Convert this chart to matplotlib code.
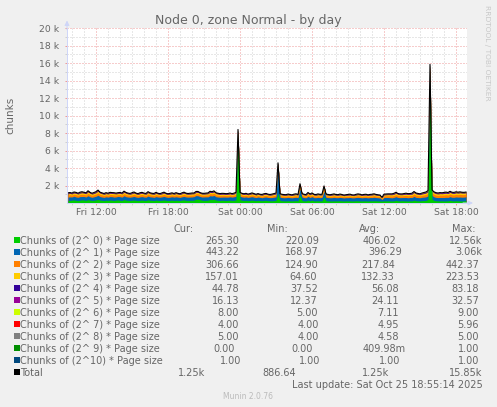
import numpy as np
import matplotlib
matplotlib.use("Agg")
import matplotlib.pyplot as plt
from matplotlib.ticker import FixedLocator

# ---------------- data (10-minute samples, first sample Fri 09:40) ----------------
start_hour = 9 + 40 / 60
step_hours = 10 / 60

chunks_2p0 = [310,290,330,350,300,280,320,360,340,300, 380,330,290,310,350,400,330,300,280,320,
              300,340,310,290,330,350,300,280,390,320, 300,290,310,340,300,280,310,330,300,290,
              360,310,300,280,330,300,290,310,340,300, 280,300,320,290,310,300,280,330,350,300,
              290,310,300,330,420,450,380,310,300,300, 320,400,380,420,330,300,290,310,300,280,
              300,320,290,310,350,7000,360,310,290,300, 280,300,320,290,270,300,280,260,290,300,
              270,260,250,280,300,1100,280,260,250,240, 260,250,240,260,270,250,900,280,250,240,
              330,250,320,240,250,260,240,250,700,260, 250,240,230,250,240,250,260,240,230,250,
              240,250,230,240,260,250,240,230,250,240, 230,250,240,260,250,240,230,220,250,240,
              250,240,230,250,300,250,240,260,250,240, 230,250,240,320,260,250,240,270,280,300,
              400,12560,420,300,260,250,240,250,230,240, 250,300,250,240,260,250,240,230,250,265]
chunks_2p1 = [380,400,360,420,390,370,410,380,400,390, 450,380,360,400,420,480,400,380,360,390,
              370,390,410,380,360,400,420,390,430,400, 380,370,390,410,380,360,390,400,380,370,
              430,390,380,360,400,380,370,390,410,380, 360,370,390,380,400,370,360,380,400,390,
              380,370,390,400,430,380,360,370,390,400, 380,430,420,440,390,380,370,360,380,390,
              370,390,380,400,420,800,400,380,370,390, 360,380,400,370,350,380,360,340,370,380,
              360,350,370,380,400,3060,380,360,350,370, 380,360,350,370,380,360,700,400,370,360,
              420,380,400,370,360,380,370,390,650,380, 370,360,380,390,370,360,380,370,350,360,
              370,380,360,350,370,390,380,360,370,380, 360,370,380,390,370,360,350,169,380,390,
              380,370,360,390,420,380,370,360,380,390, 370,380,390,430,380,370,360,380,390,400,
              420,2490,450,400,380,370,390,380,400,410, 390,420,400,410,430,420,440,430,420,443]
chunks_2p2 = [230,250,220,240,260,230,250,270,240,230, 280,250,230,240,260,300,250,240,220,230,
              220,240,230,250,220,210,240,230,260,240, 220,210,230,250,220,210,230,240,220,210,
              250,230,210,220,240,210,200,220,240,210, 200,210,220,200,230,210,200,220,240,210,
              200,210,220,200,230,240,220,210,200,210, 220,250,240,260,220,210,200,210,200,190,
              200,210,190,200,220,330,220,200,190,200, 180,190,210,200,180,190,170,180,190,200,
              180,170,190,200,210,220,190,180,170,160, 180,170,160,180,190,170,330,190,180,170,
              220,190,210,180,170,190,180,170,320,180, 170,160,180,190,170,160,180,170,150,160,
              170,180,160,150,170,190,180,160,170,180, 160,170,180,190,170,160,150,125,180,190,
              200,210,220,230,250,220,210,200,220,240, 230,220,240,280,250,230,220,240,260,280,
              300,442,320,290,270,260,280,270,290,300, 280,310,290,280,300,290,310,300,290,307]
chunks_2p3 = [140,150,130,145,155,140,150,160,145,140, 170,150,140,145,155,175,150,140,130,140,
              135,145,140,150,130,125,145,140,160,145, 135,130,140,150,135,130,140,145,135,130,
              150,140,130,135,145,130,125,135,145,130, 125,130,135,125,140,130,125,135,145,130,
              125,130,135,125,140,145,135,130,125,130, 135,150,145,155,135,130,125,130,125,120,
              125,130,120,125,135,170,135,125,120,125, 115,120,130,125,115,120,110,115,120,125,
              115,110,120,125,130,120,120,115,110,105, 115,110,105,115,120,110,170,120,115,110,
              135,120,130,115,110,120,115,110,170,115, 110,105,115,120,110,105,115,110,100,105,
              110,115,105,100,110,120,115,105,110,115, 105,110,115,120,110,105,100,65,115,120,
              125,130,135,140,150,135,130,125,135,145, 140,135,145,165,150,140,135,145,155,165,
              175,224,180,170,160,155,165,160,170,175, 165,180,170,165,175,170,180,175,170,157]
chunks_2p4 = [58,62,55,60,64,57,61,66,60,58, 70,62,57,60,64,72,62,58,55,57,
              55,59,57,61,54,52,58,56,64,59, 55,53,57,61,55,53,57,59,55,53,
              60,57,53,55,59,53,51,55,59,53, 51,53,55,51,57,53,51,55,59,53,
              51,53,55,51,57,59,55,53,51,53, 55,61,59,63,55,53,51,53,51,49,
              51,53,49,51,55,60,55,51,49,51, 47,49,53,51,47,49,45,47,49,51,
              47,45,49,51,53,50,49,47,45,43, 47,45,43,47,49,45,60,49,47,45,
              55,49,53,47,45,49,47,45,60,47, 45,43,47,49,45,43,47,45,41,43,
              45,47,43,41,45,49,47,43,45,47, 43,45,47,49,45,43,41,38,47,49,
              51,53,55,57,61,55,53,51,55,59, 57,55,59,67,61,57,55,59,63,67,
              71,83,73,69,65,63,67,65,69,71, 67,73,69,67,64,60,57,52,48,45]
chunks_2p5 = [25,27,24,26,28,25,26,29,26,25, 30,27,25,26,28,31,27,25,24,25,
              24,26,25,27,24,23,25,24,28,26, 24,23,25,27,24,23,25,26,24,23,
              26,25,23,24,26,23,22,24,26,23, 22,23,24,22,25,23,22,24,26,23,
              22,23,24,22,25,26,24,23,22,23, 24,27,26,28,24,23,22,23,22,21,
              22,23,21,22,24,25,24,22,21,22, 20,21,23,22,20,21,19,20,21,22,
              20,19,21,22,23,22,21,20,19,18, 20,19,18,20,21,19,25,21,20,19,
              24,21,23,20,19,21,20,19,25,20, 19,18,20,21,19,18,20,19,17,12,
              19,20,18,17,19,21,20,18,19,20, 18,19,20,21,19,18,17,16,20,21,
              22,23,24,25,27,24,23,22,24,26, 25,24,26,29,27,25,24,26,28,29,
              31,33,32,30,29,28,29,28,30,31, 29,32,30,29,31,30,28,24,20,16]
chunks_2p6 = [7,7,8,7,6,7,8,9,7,7,8,7,7,6,7,8,7,7,6,7,
              6,7,7,8,7,6,7,7,8,7,7,6,7,8,7,6,7,7,7,6,
              8,7,6,7,7,6,5,7,8,7,6,7,7,6,7,7,6,7,8,7,
              6,7,7,6,7,8,7,7,6,7,7,8,8,9,7,7,6,7,6,6,
              6,7,6,7,7,8,7,6,6,7,6,6,7,7,6,6,5,6,6,7,
              6,6,7,7,7,8,7,6,6,6,7,6,6,7,7,6,8,7,6,6,
              7,6,7,6,6,7,6,6,8,6,6,5,6,7,6,6,7,6,6,5,
              6,7,6,6,7,7,7,6,6,7,6,6,7,7,6,6,6,5,7,7,
              7,7,8,8,8,7,7,7,8,8,8,7,8,9,8,8,7,8,8,9,
              9,9,9,8,8,8,8,8,9,9,8,9,8,8,9,8,8,8,8,8]
chunks_2p7 = [5,5,5,4,5,5,5,6,5,5,5,5,4,5,5,6,5,5,5,5,
              5,5,5,5,4,5,5,5,5,5,5,4,5,5,5,5,5,5,4,5,
              5,5,5,5,5,4,5,5,5,5,5,5,4,5,5,5,5,5,5,5,
              5,5,5,4,5,5,5,5,5,5,5,6,5,5,5,5,4,5,5,5,
              5,5,5,5,5,6,5,5,5,4,5,5,5,5,5,4,5,5,5,5,
              5,5,5,5,5,6,5,5,4,5,5,5,5,5,5,5,6,5,5,5,
              5,5,5,5,4,5,5,5,6,5,5,5,4,5,5,5,5,5,5,5,
              5,5,5,4,5,5,5,5,5,5,5,5,5,5,4,5,5,5,5,5,
              5,5,5,5,5,5,5,5,5,5,5,5,5,6,5,5,5,5,5,5,
              5,6,5,5,5,5,5,5,5,5,5,5,5,5,5,5,5,5,4,4]
chunks_2p8 = [5,5,4,5,5,4,5,5,4,5,5,4,5,5,4,5,4,5,5,4,
              5,4,5,5,4,5,5,4,5,4,5,5,4,5,4,5,5,4,5,4,
              5,4,5,4,5,5,4,5,4,5,4,5,5,4,5,4,5,5,4,5,
              4,5,5,4,5,4,5,5,4,5,5,4,5,4,5,5,4,5,4,5,
              5,4,5,5,4,5,5,4,5,4,5,5,4,5,4,5,5,4,5,5,
              4,5,4,5,5,4,5,4,5,5,4,5,5,4,5,4,5,5,4,5,
              5,4,5,5,4,5,4,5,5,4,5,4,5,5,4,5,5,4,5,4,
              5,5,4,5,4,5,5,4,5,5,4,5,4,5,5,4,5,4,5,5,
              4,5,5,4,5,5,4,5,4,5,5,4,5,5,4,5,5,4,5,5,
              5,4,5,5,4,5,5,4,5,5,4,5,5,4,5,5,4,5,5,5]
chunks_2p9 = [0,1,0,0,1,0,1,0,0,1,0,1,0,1,0,0,1,0,1,0,
              1,0,0,1,0,1,0,0,1,0,1,0,1,0,0,1,0,1,0,0,
              0,1,0,1,0,0,1,0,1,0,0,1,0,0,1,0,1,0,0,1,
              1,0,1,0,0,1,0,0,1,0,1,0,0,1,0,1,0,1,0,0,
              0,1,0,0,1,0,1,0,0,1,0,0,1,0,1,0,0,1,0,1,
              1,0,0,1,0,1,0,0,1,0,1,0,1,0,0,1,0,0,1,0,
              0,1,0,1,0,0,1,0,0,1,0,1,0,0,1,0,1,0,0,1,
              1,0,1,0,0,1,0,1,0,0,1,0,0,1,0,1,0,0,1,0,
              0,1,0,0,1,0,0,1,0,1,0,0,1,0,1,0,0,1,0,1,
              1,0,0,1,0,1,0,0,1,0,0,1,0,1,0,0,1,0,1,0]
chunks_2p10 = [1,1,1,1,1,1,1,1,1,1,1,1,1,1,1,1,1,1,1,1,
               1,1,1,1,1,1,1,1,1,1,1,1,1,1,1,1,1,1,1,1,
               1,1,1,1,1,1,1,1,1,1,1,1,1,1,1,1,1,1,1,1,
               1,1,1,1,1,1,1,1,1,1,1,1,1,1,1,1,1,1,1,1,
               1,1,1,1,1,1,1,1,1,1,1,1,1,1,1,1,1,1,1,1,
               1,1,1,1,1,1,1,1,1,1,1,1,1,1,1,1,1,1,1,1,
               1,1,1,1,1,1,1,1,1,1,1,1,1,1,1,1,1,1,1,1,
               1,1,1,1,1,1,1,1,1,1,1,1,1,1,1,1,1,1,1,1,
               1,1,1,1,1,1,1,1,1,1,1,1,1,1,1,1,1,1,1,1,
               1,1,1,1,1,1,1,1,1,1,1,1,1,1,1,1,1,1,1,1]

series_labels = ["Chunks of (2^ 0) * Page size", "Chunks of (2^ 1) * Page size",
                 "Chunks of (2^ 2) * Page size", "Chunks of (2^ 3) * Page size",
                 "Chunks of (2^ 4) * Page size", "Chunks of (2^ 5) * Page size",
                 "Chunks of (2^ 6) * Page size", "Chunks of (2^ 7) * Page size",
                 "Chunks of (2^ 8) * Page size", "Chunks of (2^ 9) * Page size",
                 "Chunks of (2^10) * Page size"]
cur_vals = ["265.30", "443.22", "306.66", "157.01", "44.78", "16.13", "8.00", "4.00", "5.00", "0.00", "1.00"]
min_vals = ["220.09", "168.97", "124.90", "64.60", "37.52", "12.37", "5.00", "4.00", "4.00", "0.00", "1.00"]
avg_vals = ["406.02", "396.29", "217.84", "132.33", "56.08", "24.11", "7.11", "4.95", "4.58", "409.98m", "1.00"]
max_vals = ["12.56k", "3.06k", "442.37", "223.53", "83.18", "32.57", "9.00", "5.96", "5.00", "1.00", "1.00"]
total_label = "Total"
total_vals = ["1.25k", "886.64", "1.25k", "15.85k"]

xtick_hours = [12, 18, 24, 30, 36, 42]
xtick_labels = ["Fri 12:00", "Fri 18:00", "Sat 00:00", "Sat 06:00", "Sat 12:00", "Sat 18:00"]
ytick_values = [2000, 4000, 6000, 8000, 10000, 12000, 14000, 16000, 18000, 20000]
ytick_labels = ["2 k", "4 k", "6 k", "8 k", "10 k", "12 k", "14 k", "16 k", "18 k", "20 k"]

title = "Node 0, zone Normal - by day"
ylabel = "chunks"
last_update = "Last update: Sat Oct 25 18:55:14 2025"
footer = "Munin 2.0.76"
watermark = "RRDTOOL / TOBI OETIKER"

# ---------------- styles / layout ----------------
colors = ["#00CC00", "#0066B3", "#FF8000", "#FFCC00", "#330099", "#990099",
          "#CCFF00", "#FF0000", "#808080", "#008F00", "#00487D"]
FONT = "#666666"
AXIS = "#CFD6F8"
W, H, DPI = 497, 407, 100

plt.rcParams["font.family"] = ["DejaVu Sans"]
fig = plt.figure(figsize=(W / DPI, H / DPI), dpi=DPI, facecolor="#F0F0F0")


def fx(x):
    return x / W


def fy(y):
    return 1 - y / H


ax_l, ax_r, ax_t, ax_b = 67, 467, 28, 203
ax = fig.add_axes([fx(ax_l), fy(ax_b), (ax_r - ax_l) / W, (ax_b - ax_t) / H])
ax.set_facecolor("white")

series = [chunks_2p0, chunks_2p1, chunks_2p2, chunks_2p3, chunks_2p4, chunks_2p5,
          chunks_2p6, chunks_2p7, chunks_2p8, chunks_2p9, chunks_2p10]
data = np.array(series, dtype=float)
hours = start_hour + step_hours * np.arange(data.shape[1])
cum = np.cumsum(data, axis=0)
total = cum[-1]

for k in range(len(series) - 1, -1, -1):
    ax.fill_between(hours, 0, cum[k], color=colors[k], lw=0, zorder=2)
ax.plot(hours, total, color="black", lw=0.8, zorder=3)

x0 = 9 + 35 / 60
ax.set_xlim(x0, x0 + 400 / 12)
ax.set_ylim(0, 20000)

ax.xaxis.set_major_locator(FixedLocator(xtick_hours))
ax.xaxis.set_minor_locator(FixedLocator(list(range(10, 43))))
ax.set_xticklabels(xtick_labels)
ax.yaxis.set_major_locator(FixedLocator(ytick_values))
ax.yaxis.set_minor_locator(FixedLocator(list(range(1000, 20001, 1000))))
ax.set_yticklabels(ytick_labels)

ax.set_axisbelow(True)
ax.grid(which="minor", color="#D0D0D0", ls=(0, (1, 2)), lw=0.72)
ax.grid(which="major", color="#EE9A9A", ls=(0, (1, 2)), lw=0.72)

ax.tick_params(which="major", length=1.5, width=0.72, color="#EE9A9A",
               labelsize=6.7, labelcolor=FONT)
ax.tick_params(which="minor", length=1.5, width=0.72, color="#D0D0D0")
ax.tick_params(axis="x", which="major", pad=1.8)
ax.tick_params(axis="y", which="major", pad=4)

for s in ["top", "right"]:
    ax.spines[s].set_visible(False)
for s in ["left", "bottom"]:
    ax.spines[s].set_color(AXIS)
    ax.spines[s].set_linewidth(0.72)
    ax.spines[s].set_zorder(4)

ax.annotate("", xy=(0, (ax_b - 20.5) / (ax_b - ax_t)), xytext=(0, 0.99),
            xycoords="axes fraction", annotation_clip=False,
            arrowprops=dict(arrowstyle="-|>", color=AXIS, lw=0.72, mutation_scale=7,
                            shrinkA=0, shrinkB=0))
ax.annotate("", xy=((473 - ax_l) / (ax_r - ax_l), 0), xytext=(0.99, 0),
            xycoords="axes fraction", annotation_clip=False,
            arrowprops=dict(arrowstyle="-|>", color=AXIS, lw=0.72, mutation_scale=7,
                            shrinkA=0, shrinkB=0))

# ---------------- texts ----------------
fig.text(fx(248), fy(24), title, ha="center", va="baseline", fontsize=9, color=FONT)
fig.text(fx(10), fy(115), ylabel, ha="center", va="center", rotation=90,
         fontsize=7.5, color=FONT)
fig.text(fx(487.5), fy(53), watermark, ha="center", va="center", rotation=270,
         fontsize=5.4, color="#C8C8C8")

LS = 7
base = 3.5
fig.text(fx(173), fy(228 + base), "Cur:", ha="left", va="baseline", fontsize=LS, color=FONT)
fig.text(fx(267), fy(228 + base), "Min:", ha="left", va="baseline", fontsize=LS, color=FONT)
fig.text(fx(359), fy(228 + base), "Avg:", ha="left", va="baseline", fontsize=LS, color=FONT)
fig.text(fx(452), fy(228 + base), "Max:", ha="left", va="baseline", fontsize=LS, color=FONT)

cur_r = [239, 239, 239, 239, 239, 239, 239, 239, 239, 235, 241]
min_r = [319, 319, 319, 317, 318, 318, 318, 319, 319, 313, 320]
avg_r = [396, 402, 395, 395, 399, 399, 399, 399, 399, 406, 400]
max_r = [482, 482, 479, 479, 479, 479, 479, 479, 479, 479, 479]

for k, lab in enumerate(series_labels):
    yrow = 240 + 12 * k
    fig.patches.append(plt.Rectangle((fx(14), fy(yrow + 3)), 6 / W, 6 / H,
                                     transform=fig.transFigure, facecolor=colors[k],
                                     edgecolor="none"))
    fig.text(fx(20.5), fy(yrow + base), lab, ha="left", va="baseline", fontsize=LS, color=FONT)
    for txt, xr in zip([cur_vals[k], min_vals[k], avg_vals[k], max_vals[k]],
                       [cur_r[k], min_r[k], avg_r[k], max_r[k]]):
        fig.text(fx(xr), fy(yrow + base), txt, ha="right", va="baseline",
                 fontsize=LS, color=FONT)

yrow = 372
fig.patches.append(plt.Rectangle((fx(14), fy(yrow + 3)), 6 / W, 6 / H,
                                 transform=fig.transFigure, facecolor="black",
                                 edgecolor="none"))
fig.text(fx(20.5), fy(yrow + base), total_label, ha="left", va="baseline", fontsize=LS, color=FONT)
for txt, xr in zip(total_vals, [205, 296, 389, 482]):
    fig.text(fx(xr), fy(yrow + base), txt, ha="right", va="baseline", fontsize=LS, color=FONT)

fig.text(fx(482.5), fy(384 + base), last_update, ha="right", va="baseline",
         fontsize=LS, color=FONT)
fig.text(fx(248), fy(396 + 2.7), footer, ha="center", va="baseline",
         fontsize=5.5, color="#BBBBBB")

fig.savefig("out.png", dpi=DPI, facecolor=fig.get_facecolor())
